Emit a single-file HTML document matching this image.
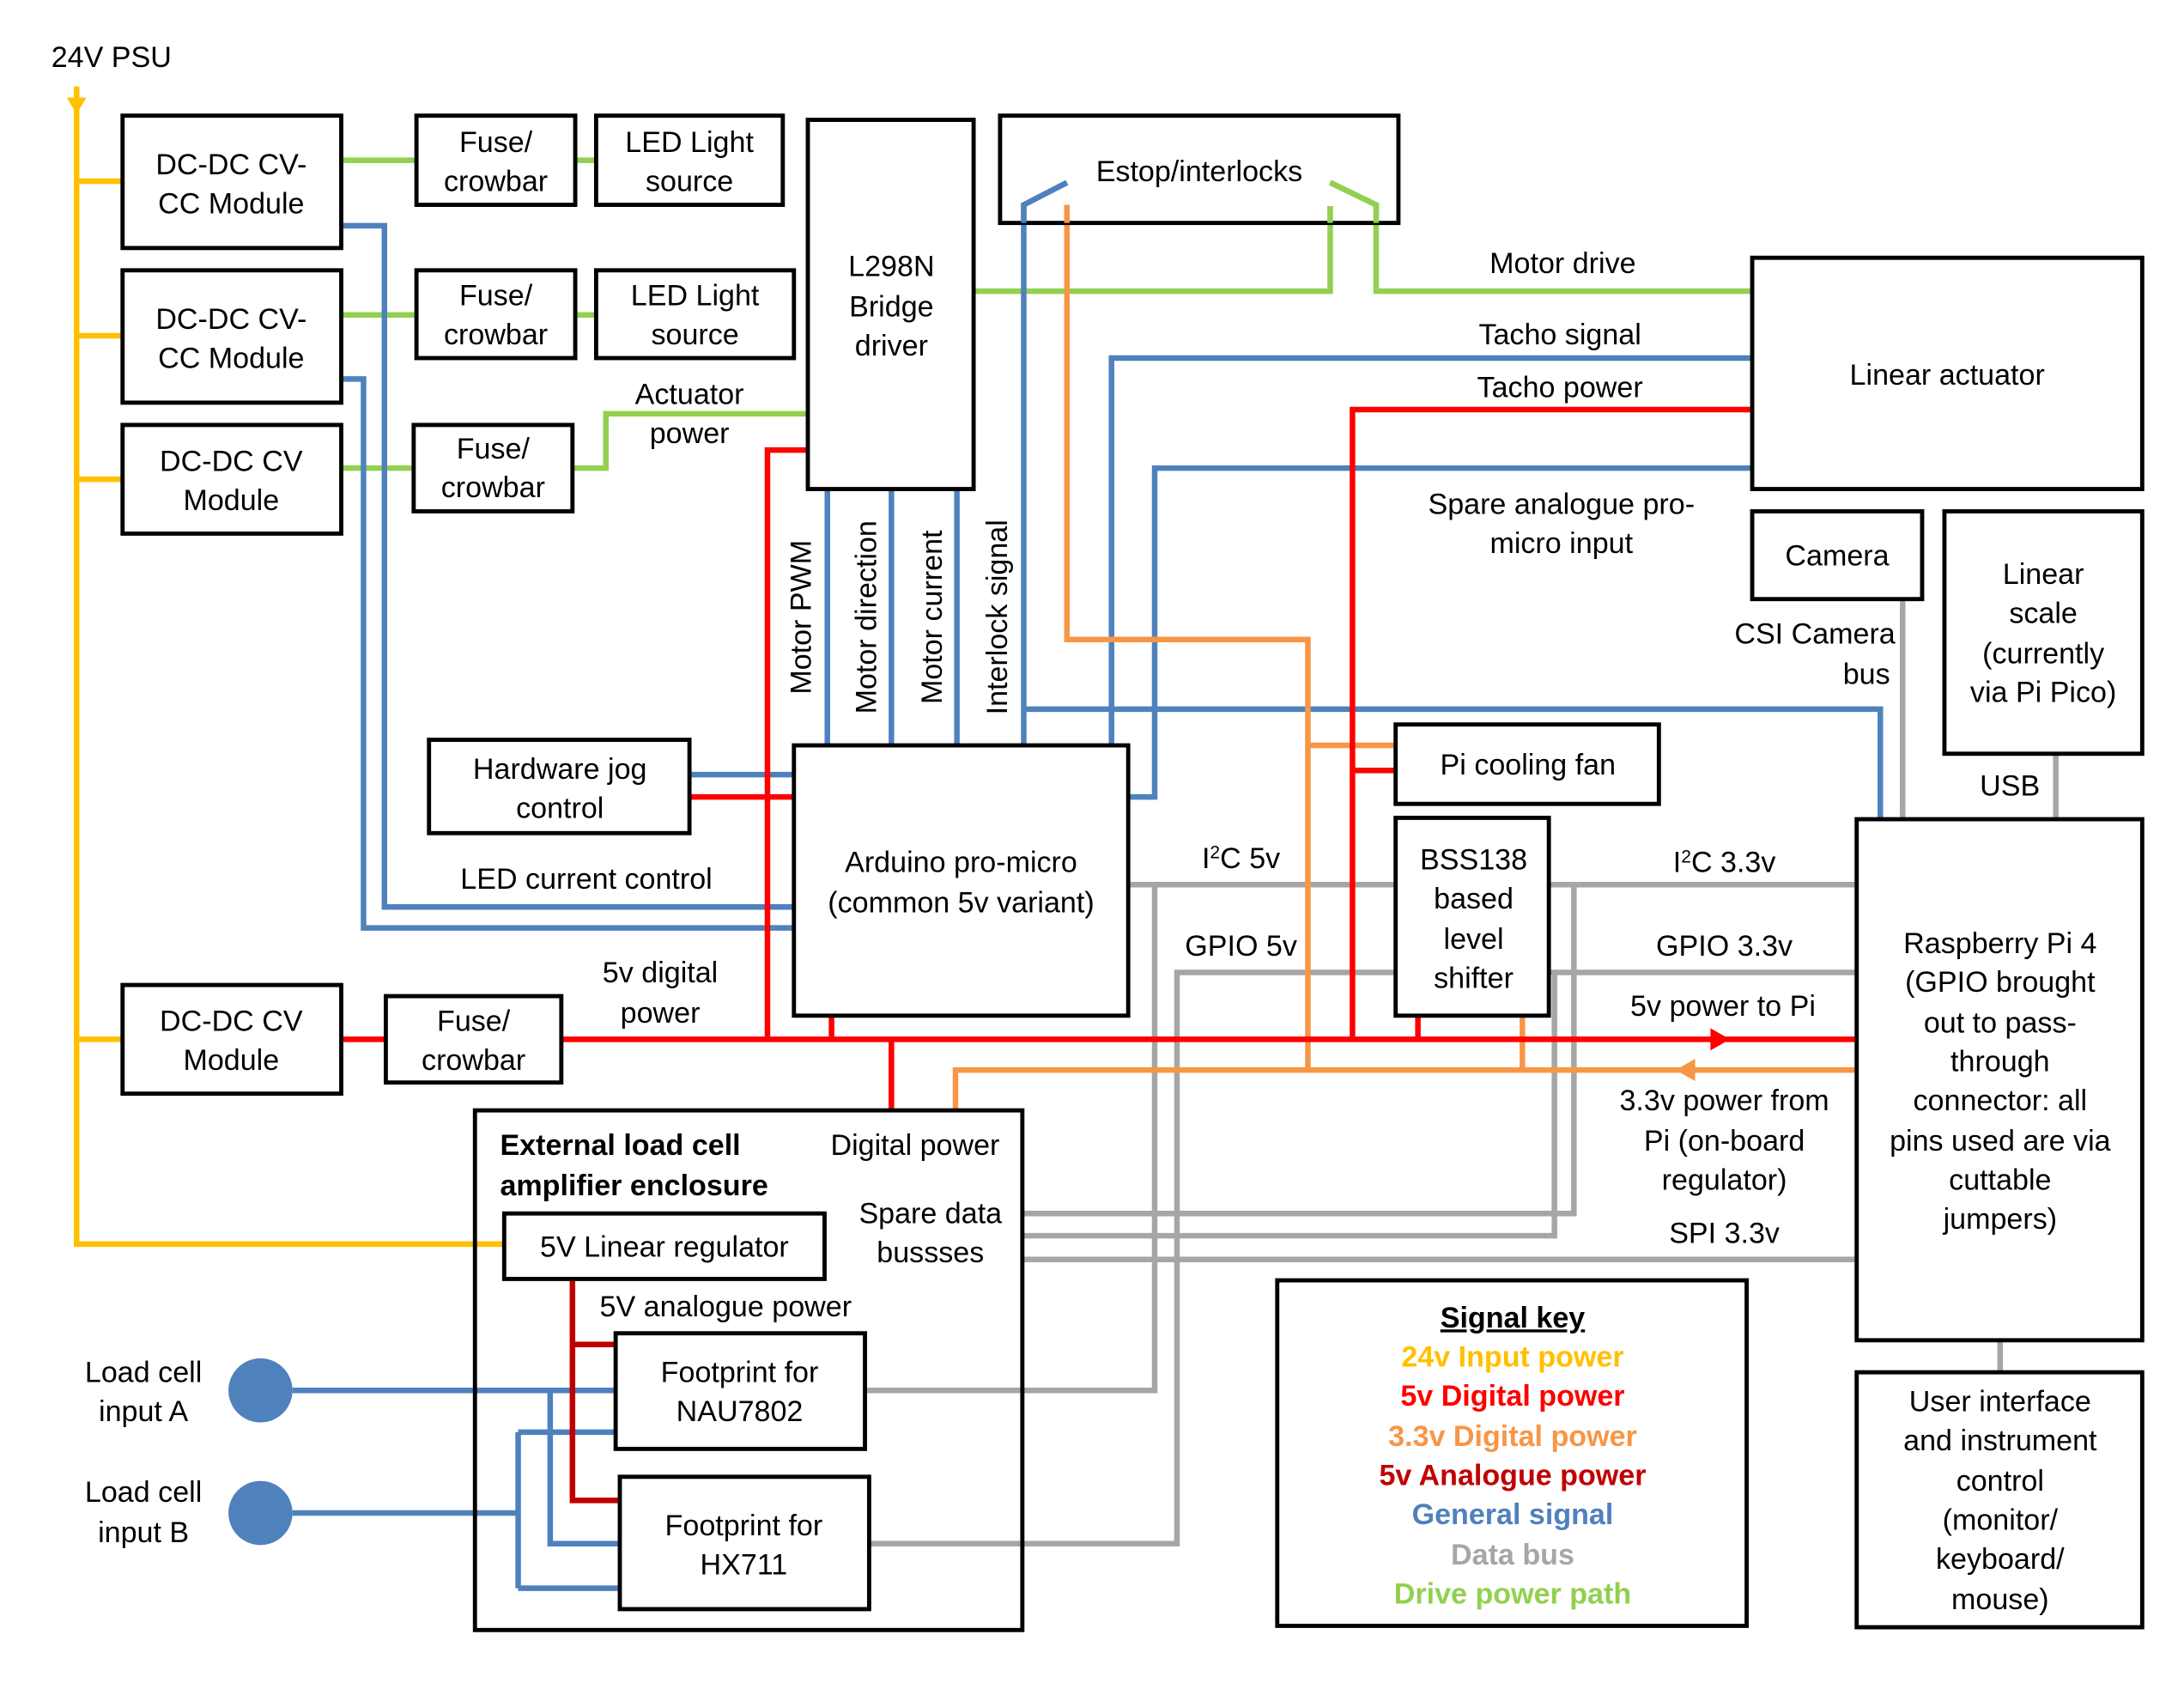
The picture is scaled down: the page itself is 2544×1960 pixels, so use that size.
<!DOCTYPE html>
<html><head><meta charset="utf-8"><style>
html,body{margin:0;padding:0;background:#fff}
svg{display:block}
text{font-family:"Liberation Sans",sans-serif;font-size:21px;fill:#000}
</style></head><body>
<svg width="2544" height="1960" viewBox="0 0 1568 1208" xmlns="http://www.w3.org/2000/svg">
<rect width="1568" height="1208" fill="#fff"/>
<g fill="none" stroke-width="4">
<g stroke="#FFC000">
<path d="M55 62V893H362"/>
<path d="M55 130H88M55 241H88M55 344H88M55 746H88"/>
</g>
<polygon points="48,70 62,70 55,82" fill="#FFC000"/>
<g stroke="#92D050">
<path d="M245 115H299M413 115H428M245 226H299M413 226H428M245 336H297M411 336H435V297H580"/>
<path d="M699 209H955V148L955 148"/>
<path d="M955 131L988 147V209H1258"/>
</g>
<g stroke="#4F81BD">
<path d="M245 162H276V651H570"/>
<path d="M245 272H261V666H570"/>
<path d="M495 556H570"/>
<path d="M594 351V535M640 351V535M687 351V535"/>
<path d="M766 131L735 147V535"/>
<path d="M735 509H1350V588"/>
<path d="M1258 257H798V535"/>
<path d="M1258 336H829V572H810"/>
<path d="M210 998H442"/>
<path d="M210 1086H372"/>
<path d="M372 1028V1140M372 1028H442M372 1140H445"/>
<path d="M395 998V1108H445"/>
</g>
<g stroke="#A6A6A6">
<path d="M810 635H1002M1112 635H1333M1112 698H1333"/>
<path d="M1002 698H845V1108H624"/>
<path d="M829 635V998H621"/>
<path d="M734 871H1130V635"/>
<path d="M734 887H1116V698"/>
<path d="M734 904H1333"/>
<path d="M1366 430V588M1476 541V588M1436 962V985"/>
</g>
<g stroke="#F79646">
<path d="M766 147V459H939V768"/>
<path d="M939 535H1002"/>
<path d="M1333 768H686V797"/>
<path d="M1093 729V768"/>
</g>
<polygon points="1203,768 1217,760 1217,776" fill="#F79646"/>
<g stroke="#FF0000">
<path d="M495 572H570"/>
<path d="M245 746H277M403 746H1333"/>
<path d="M580 323H551V746"/>
<path d="M597 729V746M640 746V797M1018 729V746"/>
<path d="M1258 294H971V746"/>
<path d="M971 553H1002"/>
</g>
<polygon points="1242,746 1228,738 1228,754" fill="#FF0000"/>
<g stroke="#C00000">
<path d="M411 918V1077H445M411 965H442"/>
</g>
</g>
<g fill="#fff" stroke="#000" stroke-width="3">
<rect x="88" y="83" width="157" height="95"/>
<rect x="88" y="194" width="157" height="95"/>
<rect x="88" y="305" width="157" height="78"/>
<rect x="299" y="83" width="114" height="64"/>
<rect x="428" y="83" width="134" height="64"/>
<rect x="299" y="194" width="114" height="63"/>
<rect x="428" y="194" width="142" height="63"/>
<rect x="297" y="305" width="114" height="62"/>
<rect x="580" y="86" width="119" height="265"/>
<rect x="1258" y="185" width="280" height="166"/>
<rect x="1258" y="367" width="122" height="63"/>
<rect x="1396" y="367" width="142" height="174"/>
<rect x="1002" y="520" width="189" height="57"/>
<rect x="1002" y="587" width="110" height="142"/>
<rect x="1333" y="588" width="205" height="374"/>
<rect x="1333" y="985" width="205" height="183"/>
<rect x="308" y="531" width="187" height="67"/>
<rect x="570" y="535" width="240" height="194"/>
<rect x="88" y="707" width="157" height="78"/>
<rect x="277" y="715" width="126" height="62"/>
<rect x="917" y="919" width="337" height="248"/>
</g>
<rect x="718" y="83" width="286" height="77" fill="none" stroke="#000" stroke-width="3"/>
<g fill="none" stroke-width="4">
<path d="M766 131L735 147V160" stroke="#4F81BD"/>
<path d="M955 131L988 147V160" stroke="#92D050"/>
<path d="M955 148V160" stroke="#92D050"/>
<path d="M766 147V160" stroke="#F79646"/>
</g>
<rect x="341" y="797" width="393" height="373" fill="none" stroke="#000" stroke-width="3"/>
<g fill="#fff" stroke="#000" stroke-width="3">
<rect x="362" y="871" width="230" height="47"/>
<rect x="442" y="957" width="179" height="83"/>
<rect x="445" y="1060" width="179" height="95"/>
</g>
<circle cx="187" cy="998" r="23" fill="#4F81BD"/>
<circle cx="187" cy="1086" r="23" fill="#4F81BD"/>
<g text-anchor="middle">
<text x="80" y="48">24V PSU</text>
<text x="166" y="125">DC-DC CV-</text><text x="166" y="153">CC Module</text>
<text x="166" y="236">DC-DC CV-</text><text x="166" y="264">CC Module</text>
<text x="166" y="338">DC-DC CV</text><text x="166" y="366">Module</text>
<text x="356" y="109">Fuse/</text><text x="356" y="137">crowbar</text>
<text x="495" y="109">LED Light</text><text x="495" y="137">source</text>
<text x="356" y="219">Fuse/</text><text x="356" y="247">crowbar</text>
<text x="499" y="219">LED Light</text><text x="499" y="247">source</text>
<text x="354" y="329">Fuse/</text><text x="354" y="357">crowbar</text>
<text x="495" y="290">Actuator</text><text x="495" y="318">power</text>
<text x="640" y="198">L298N</text><text x="640" y="227">Bridge</text><text x="640" y="255">driver</text>
<text x="861" y="130">Estop/interlocks</text>
<text x="1122" y="196">Motor drive</text>
<text x="1120" y="247">Tacho signal</text>
<text x="1120" y="285">Tacho power</text>
<text x="1398" y="276">Linear actuator</text>
<text x="1121" y="369">Spare analogue pro-</text><text x="1121" y="397">micro input</text>
<text x="1319" y="406">Camera</text>
<text x="1467" y="419">Linear</text><text x="1467" y="447">scale</text><text x="1467" y="476">(currently</text><text x="1467" y="504">via Pi Pico)</text>
<text x="1303" y="462">CSI Camera</text>
<text x="1443" y="571">USB</text>
<text x="1097" y="556">Pi cooling fan</text>
<text x="1058" y="624">BSS138</text><text x="1058" y="652">based</text><text x="1058" y="681">level</text><text x="1058" y="709">shifter</text>
<text x="1436" y="684">Raspberry Pi 4</text><text x="1436" y="712">(GPIO brought</text><text x="1436" y="741">out to pass-</text><text x="1436" y="769">through</text><text x="1436" y="797">connector: all</text><text x="1436" y="826">pins used are via</text><text x="1436" y="854">cuttable</text><text x="1436" y="882">jumpers)</text>
<text x="1436" y="1013">User interface</text><text x="1436" y="1041">and instrument</text><text x="1436" y="1070">control</text><text x="1436" y="1098">(monitor/</text><text x="1436" y="1126">keyboard/</text><text x="1436" y="1155">mouse)</text>
<text x="402" y="559">Hardware jog</text><text x="402" y="587">control</text>
<text x="421" y="638">LED current control</text>
<text x="690" y="626">Arduino pro-micro</text><text x="690" y="655">(common 5v variant)</text>
<text x="891" y="623">I<tspan font-size="13" dy="-7">2</tspan><tspan dy="7">C 5v</tspan></text>
<text x="1238" y="626">I<tspan font-size="13" dy="-7">2</tspan><tspan dy="7">C 3.3v</tspan></text>
<text x="891" y="686">GPIO 5v</text>
<text x="1238" y="686">GPIO 3.3v</text>
<text x="1237" y="729">5v power to Pi</text>
<text x="1238" y="797">3.3v power from</text><text x="1238" y="826">Pi (on-board</text><text x="1238" y="854">regulator)</text>
<text x="1238" y="892">SPI 3.3v</text>
<text x="474" y="705">5v digital</text><text x="474" y="734">power</text>
<text x="166" y="740">DC-DC CV</text><text x="166" y="768">Module</text>
<text x="340" y="740">Fuse/</text><text x="340" y="768">crowbar</text>
<text x="657" y="829">Digital power</text>
<text x="668" y="878">Spare data</text><text x="668" y="906">bussses</text>
<text x="477" y="902">5V Linear regulator</text>
<text x="521" y="945">5V analogue power</text>
<text x="531" y="992">Footprint for</text><text x="531" y="1020">NAU7802</text>
<text x="534" y="1102">Footprint for</text><text x="534" y="1130">HX711</text>
<text x="103" y="992">Load cell</text><text x="103" y="1020">input A</text>
<text x="103" y="1078">Load cell</text><text x="103" y="1107">input B</text>
</g>
<text x="1357" y="491" text-anchor="end">bus</text>
<text x="359" y="829" style="font-weight:bold">External load cell</text>
<text x="359" y="858" style="font-weight:bold">amplifier enclosure</text>
<g text-anchor="middle">
<text x="1086" y="953" text-decoration="underline" style="font-weight:bold">Signal key</text>
<text x="1086" y="981" style="fill:#FFC000;font-weight:bold">24v Input power</text>
<text x="1086" y="1009" style="fill:#FF0000;font-weight:bold">5v Digital power</text>
<text x="1086" y="1038" style="fill:#F79646;font-weight:bold">3.3v Digital power</text>
<text x="1086" y="1066" style="fill:#C00000;font-weight:bold">5v Analogue power</text>
<text x="1086" y="1094" style="fill:#4F81BD;font-weight:bold">General signal</text>
<text x="1086" y="1123" style="fill:#A6A6A6;font-weight:bold">Data bus</text>
<text x="1086" y="1151" style="fill:#92D050;font-weight:bold">Drive power path</text>
</g>
<g text-anchor="middle">
<text transform="translate(582,443) rotate(-90)">Motor PWM</text>
<text transform="translate(629,443) rotate(-90)">Motor direction</text>
<text transform="translate(676,443) rotate(-90)">Motor current</text>
<text transform="translate(723,443) rotate(-90)">Interlock signal</text>
</g>
</svg>
</body></html>
